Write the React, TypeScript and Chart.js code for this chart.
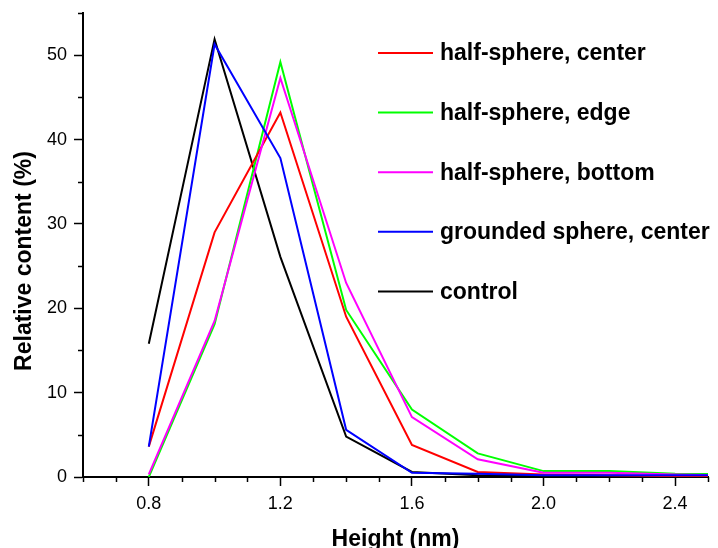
import React, { useEffect, useRef } from "react";
import { Chart, registerables } from "chart.js";

Chart.register(...registerables);

const heights = [0.8, 1.0, 1.2, 1.4, 1.6, 1.8, 2.0, 2.2, 2.4, 2.6];
const halfSphereCenter = [3.6, 29.0, 43.2, 19.0, 3.8, 0.6, 0.3, 0.2, 0.1, 0.1];
const halfSphereEdge = [0.0, 18.1, 49.2, 19.8, 8.0, 2.8, 0.7, 0.7, 0.4, 0.3];
const halfSphereBottom = [0.3, 18.5, 47.3, 23.0, 7.1, 2.1, 0.5, 0.5, 0.3, 0.2];
const groundedSphereCenter = [3.6, 51.3, 37.8, 5.6, 0.5, 0.4, 0.2, 0.2, 0.2, 0.2];
const control = [15.8, 51.9, 26.1, 4.8, 0.6, 0.2, 0.1, 0.1, 0.0, 0.0];

const seriesLabels = [
  "half-sphere, center",
  "half-sphere, edge",
  "half-sphere, bottom",
  "grounded sphere, center",
  "control",
];
const seriesColors = ["#ff0000", "#00ff00", "#ff00ff", "#0000ff", "#000000"];
const seriesOrder = [3, 4, 2, 1, 5];
const seriesValues = [halfSphereCenter, halfSphereEdge, halfSphereBottom, groundedSphereCenter, control];

const xTitle = "Height (nm)";
const yTitle = "Relative content (%)";

const FONT = "'Liberation Sans', Arial, sans-serif";

const customPlugin = {
  id: "customDecor",
  afterDraw(chart: any) {
    const { ctx, chartArea } = chart;
    const xs = chart.scales.x;
    const ys = chart.scales.y;
    ctx.save();
    // minor ticks
    ctx.strokeStyle = "#000";
    ctx.lineWidth = 1.5;
    ys.ticks.forEach((t: any) => {
      if (Math.round(t.value) % 10 !== 0) {
        const py = Math.round(ys.getPixelForValue(t.value)) + 0.5;
        ctx.beginPath();
        ctx.moveTo(chartArea.left - 5, py);
        ctx.lineTo(chartArea.left, py);
        ctx.stroke();
      }
    });
    xs.ticks.forEach((t: any) => {
      if (Math.round(t.value * 10) % 4 !== 0) {
        const px = Math.round(xs.getPixelForValue(t.value)) + 0.5;
        ctx.beginPath();
        ctx.moveTo(px, chartArea.bottom);
        ctx.lineTo(px, chartArea.bottom + 5);
        ctx.stroke();
      }
    });
    // legend
    const lx0 = chartArea.left + 295;
    const ly0 = chartArea.top + 40;
    const rowGap = 59.6;
    ctx.font = `bold 23px ${FONT}`;
    ctx.textBaseline = "middle";
    ctx.textAlign = "left";
    chart.data.datasets.forEach((ds: any, i: number) => {
      const y = ly0 + i * rowGap;
      ctx.strokeStyle = ds.borderColor;
      ctx.lineWidth = 2;
      ctx.beginPath();
      ctx.moveTo(lx0, y);
      ctx.lineTo(lx0 + 55, y);
      ctx.stroke();
      ctx.fillStyle = "#000";
      ctx.fillText(ds.label, lx0 + 62, y + 1);
    });
    ctx.restore();
  },
};

export default function App() {
  const ref = useRef<HTMLCanvasElement>(null);
  useEffect(() => {
    if (!ref.current) return;
    const chart = new Chart(ref.current, {
      type: "line",
      data: {
        datasets: seriesLabels.map((label, i) => ({
          label,
          data: heights.map((h, j) => ({ x: h, y: seriesValues[i][j] })),
          borderColor: seriesColors[i],
          backgroundColor: seriesColors[i],
          borderWidth: 2,
          pointRadius: 0,
          tension: 0,
          order: seriesOrder[i],
        })),
      },
      options: {
        animation: false,
        responsive: false,
        layout: { padding: { top: 13, right: 10, left: 0, bottom: 0 } },
        plugins: { legend: { display: false }, tooltip: { enabled: false } },
        scales: {
          x: {
            type: "linear",
            min: 0.6,
            max: 2.5,
            afterFit: (s: any) => {
              s.height = 71;
              s.paddingLeft = 0;
              s.paddingRight = 0;
            },
            border: { color: "#000", width: 2 },
            grid: {
              drawOnChartArea: false,
              drawTicks: true,
              tickLength: 9,
              tickWidth: 1.5,
              tickColor: (c: any) =>
                Math.round(c.tick.value * 10) % 4 === 0 ? "#000" : "rgba(0,0,0,0)",
            },
            ticks: {
              stepSize: 0.1,
              autoSkip: false,
              maxRotation: 0,
              padding: 7,
              color: "#000",
              font: { family: FONT, size: 18 },
              callback: (v: any) => (Math.round(Number(v) * 10) % 4 === 0 ? Number(v).toFixed(1) : ""),
            },
            title: {
              display: true,
              text: xTitle,
              color: "#000",
              font: { family: FONT, size: 23, weight: "bold" },
              padding: { top: 0, bottom: -5 },
            },
          },
          y: {
            min: 0,
            max: 55,
            afterFit: (s: any) => {
              s.width = 83;
              s.paddingTop = 0;
              s.paddingBottom = 0;
            },
            border: { color: "#000", width: 2 },
            grid: {
              drawOnChartArea: false,
              drawTicks: true,
              tickLength: 9,
              tickWidth: 1.5,
              tickColor: (c: any) =>
                Math.round(c.tick.value) % 10 === 0 ? "#000" : "rgba(0,0,0,0)",
            },
            ticks: {
              stepSize: 5,
              autoSkip: false,
              padding: 7,
              color: "#000",
              font: { family: FONT, size: 18 },
              callback: (v: any) => (Math.round(Number(v)) % 10 === 0 ? String(v) : ""),
            },
            title: {
              display: true,
              text: yTitle + "     ",
              color: "#000",
              font: { family: FONT, size: 23, weight: "bold" },
              padding: { top: 11, bottom: 0 },
            },
          },
        },
      },
      plugins: [customPlugin],
    });
    return () => chart.destroy();
  }, []);
  return (
    <div style={{ position: "absolute", left: 0, top: 0, width: 718, height: 548, background: "#fff" }}>
      <canvas ref={ref} width={718} height={548} style={{ width: 718, height: 548, display: "block" }} />
    </div>
  );
}
